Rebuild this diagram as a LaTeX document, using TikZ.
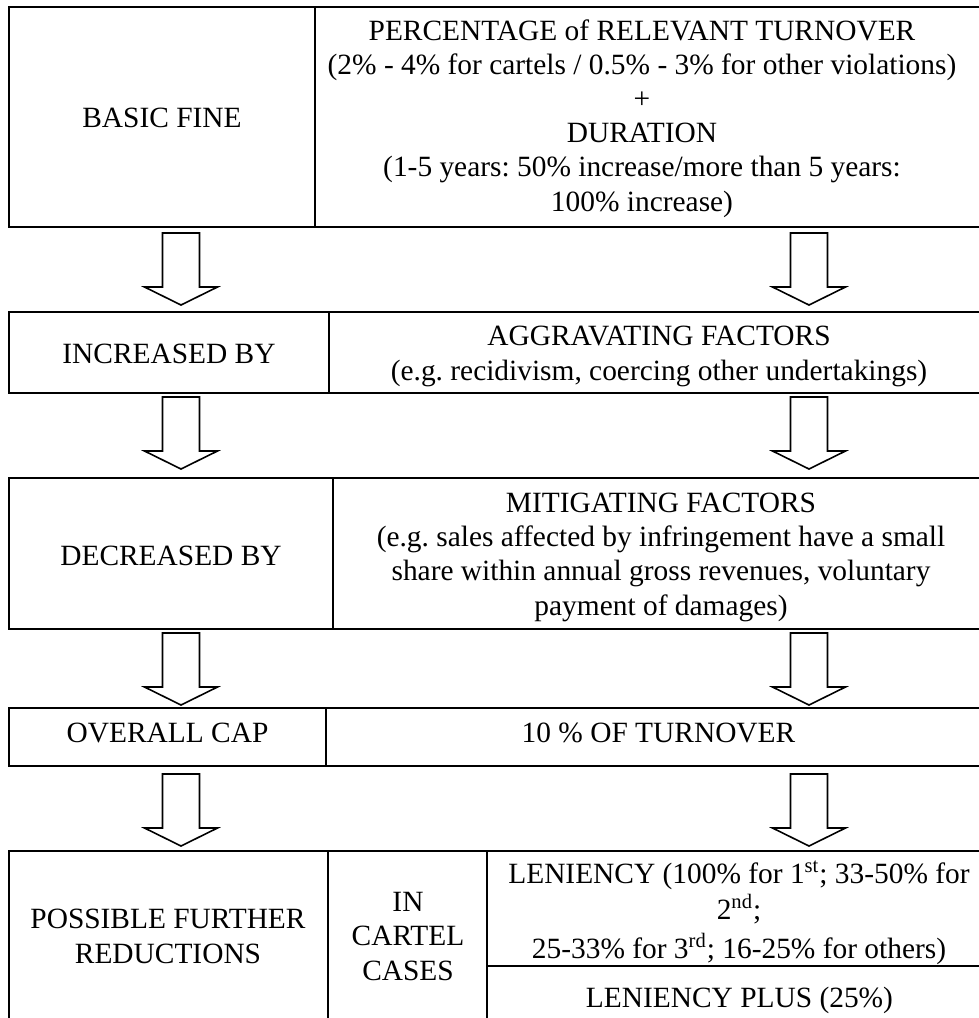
\documentclass[tikz,border=0pt]{standalone}
\usepackage{fontspec}
\setmainfont{Liberation Serif}
\frenchspacing
\tikzset{
  tbl/.style={line width=1.25pt},
  txt/.style={font=\fontsize{14.7}{17.1}\selectfont, inner sep=0pt, align=center, anchor=base},
  blockarrow/.pic={
    \draw[line width=0.8pt, line join=miter]
      (-18.5,0) -- (18.5,0) -- (18.5,54) -- (36.5,54) -- (0,72) -- (-36.5,54) -- (-18.5,54) -- cycle;
  }
}
\begin{document}
\begin{tikzpicture}[x=0.5pt, y=-0.5pt]
\useasboundingbox (0,0) rectangle (979,1018);
% table rows
\draw[tbl] (9,7) rectangle (996,227);
\draw[tbl] (315,7) -- (315,227);
\draw[tbl] (9,312) rectangle (996,393);
\draw[tbl] (329,312) -- (329,393);
\draw[tbl] (9,478) rectangle (996,629);
\draw[tbl] (333,478) -- (333,629);
\draw[tbl] (9,708) rectangle (996,766);
\draw[tbl] (326,708) -- (326,766);
\draw[tbl] (9,851) rectangle (996,1040);
\draw[tbl] (328,851) -- (328,1040);
\draw[tbl] (487,851) -- (487,1040);
\draw[tbl] (487,966) -- (996,966);
% texts (anchor = baseline of last line)
\node[txt] (basic) at (162,127) {BASIC FINE};
\node[txt] (pct) at (642,211) {PERCENTAGE of RELEVANT TURNOVER\\
(2\% - 4\% for cartels / 0.5\% - 3\% for other violations)\\
+\\
DURATION\\
(1-5 years: 50\% increase/more than 5 years:\\
100\% increase)};
\node[txt] (incr) at (169,363) {INCREASED BY};
\node[txt] (aggr) at (659,380) {AGGRAVATING FACTORS\\
(e.g. recidivism, coercing other undertakings)};
\node[txt] (decr) at (171,565) {DECREASED BY};
\node[txt] (miti) at (661,615) {MITIGATING FACTORS\\
(e.g. sales affected by infringement have a small\\
share within annual gross revenues, voluntary\\
payment of damages)};
\node[txt] (cap) at (167.5,742) {OVERALL CAP};
\node[txt] (ten) at (658.5,742) {10 \% OF TURNOVER};
\node[txt] (poss) at (168,963) {POSSIBLE FURTHER\\REDUCTIONS};
\node[txt] (cart) at (408,980) {IN\\CARTEL\\CASES};
\node[txt] (len) at (739,958) {LENIENCY (100\% for 1\textsuperscript{st}; 33-50\% for\\[0.9pt]
2\textsuperscript{nd};\\[2.4pt]
25-33\% for 3\textsuperscript{rd}; 16-25\% for others)};
\node[txt] (lenp) at (739.5,1007) {LENIENCY PLUS (25\%)};
% block arrows
\pic (a1l) at (181,233) {blockarrow};
\pic (a1r) at (809,233) {blockarrow};
\pic (a2l) at (181,397) {blockarrow};
\pic (a2r) at (809,397) {blockarrow};
\pic (a3l) at (181,633) {blockarrow};
\pic (a3r) at (809,633) {blockarrow};
\pic (a4l) at (181,774) {blockarrow};
\pic (a4r) at (809,774) {blockarrow};
\end{tikzpicture}
\end{document}
